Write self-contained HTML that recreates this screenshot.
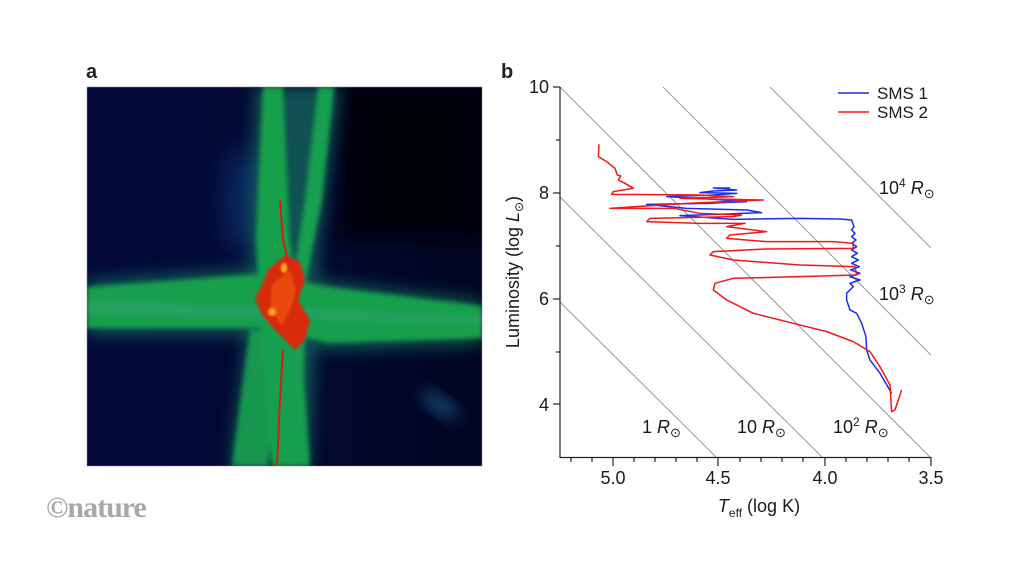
<!DOCTYPE html>
<html><head><meta charset="utf-8"><style>
body{margin:0;width:1024px;height:576px;background:#fff;overflow:hidden;font-family:"Liberation Sans",sans-serif}
</style></head><body>
<svg width="1024" height="576" viewBox="0 0 1024 576" xmlns="http://www.w3.org/2000/svg" style="position:absolute;left:0;top:0">
<defs>
<filter id="b8" x="-50%" y="-50%" width="200%" height="200%"><feGaussianBlur stdDeviation="8"/></filter>
<filter id="b3" x="-50%" y="-50%" width="200%" height="200%"><feGaussianBlur stdDeviation="2.5"/></filter>
<filter id="b1" x="-50%" y="-50%" width="200%" height="200%"><feGaussianBlur stdDeviation="1"/></filter>
<filter id="b15" x="-50%" y="-50%" width="200%" height="200%"><feGaussianBlur stdDeviation="15"/></filter>
<clipPath id="cp"><rect x="87" y="87" width="395" height="379"/></clipPath>
<linearGradient id="bg" x1="0" y1="0" x2="1" y2="0"><stop offset="0" stop-color="#03093a"/><stop offset="0.6" stop-color="#020830"/><stop offset="1" stop-color="#010520"/></linearGradient>
</defs>
<text x="86" y="78" font-size="20" font-weight="bold" fill="#222">a</text>
<text x="501" y="78" font-size="20" font-weight="bold" fill="#222">b</text>
<!-- panel a -->
<g clip-path="url(#cp)">
<rect x="87" y="87" width="395" height="379" fill="url(#bg)"/>
<rect x="340" y="80" width="150" height="160" fill="#000008" filter="url(#b8)"/>
<ellipse cx="245" cy="200" rx="18" ry="55" fill="#1a60a8" opacity="0.45" filter="url(#b15)"/>
<ellipse cx="440" cy="405" rx="22" ry="7" fill="#2a80b0" opacity="0.6" filter="url(#b8)" transform="rotate(35 440 405)"/>
<g filter="url(#b8)" opacity="0.55">
<polygon points="87,280 260,268 330,282 482,300 482,345 330,350 260,335 87,335" fill="#1a9070"/>
<polygon points="255,87 340,87 320,240 310,466 230,466 250,300" fill="#1a9070"/>
</g>
<g filter="url(#b3)">
<polygon points="87,287 260,274 330,287 482,306 482,338 330,343 260,328 87,328" fill="#14a04c"/>
<polygon points="263,87 283,87 290,240 300,320 310,466 272,466 262,350 256,240" fill="#14a04c"/>
<polygon points="318,87 334,87 322,200 302,300 290,300 305,200" fill="#18a050"/>
<polygon points="250,330 280,330 268,466 232,466" fill="#18a050" opacity="0.9"/>
<polygon points="285,330 305,330 302,466 286,466" fill="#18a050"/>
</g>
<polygon points="87,300 482,316 482,324 87,314" fill="#3aa080" opacity="0.4" filter="url(#b3)"/>
<g filter="url(#b1)">
<path d="M268 270 L285 255 L300 262 L305 280 L298 300 L310 320 L305 340 L295 350 L285 340 L275 330 L262 315 L255 298 L262 285 Z" fill="#d82a10"/>
<path d="M272 285 L290 270 L296 290 L290 310 L282 325 L270 310 Z" fill="#e84a10"/>
</g>
<ellipse cx="284" cy="268" rx="3" ry="5" fill="#ffb020" filter="url(#b1)"/>
<ellipse cx="272" cy="312" rx="4" ry="4" fill="#ffa020" filter="url(#b1)"/>
<path d="M280 200 L283 240 L288 260 M283 350 L280 400 L277 466" stroke="#d02010" stroke-width="2" fill="none"/>
</g>
<rect x="87" y="87" width="395" height="379" fill="none" stroke="#888" stroke-width="0.5"/>
<text x="46" y="517" font-family="Liberation Serif,serif" font-size="30" font-weight="bold" fill="#a8a8a8" letter-spacing="-1">©nature</text>
<!-- panel b -->
<g stroke="#999" stroke-width="1" fill="none">
<line x1="770" y1="87" x2="931" y2="248"/>
<line x1="663" y1="87" x2="931" y2="355"/>
<line x1="560" y1="87" x2="930" y2="457"/>
<line x1="560" y1="197" x2="822" y2="457"/>
<line x1="560" y1="302" x2="716" y2="457"/>
</g>
<g stroke="#222" stroke-width="1.2" fill="none">
<line x1="560" y1="87" x2="560" y2="458"/>
<line x1="560" y1="457.5" x2="931" y2="457.5"/>
<line x1="553" y1="87" x2="560" y2="87"/><line x1="556" y1="140" x2="560" y2="140"/>
<line x1="553" y1="193" x2="560" y2="193"/><line x1="556" y1="246" x2="560" y2="246"/>
<line x1="553" y1="299" x2="560" y2="299"/><line x1="556" y1="352" x2="560" y2="352"/>
<line x1="553" y1="404" x2="560" y2="404"/>
<line x1="571" y1="457" x2="571" y2="462"/><line x1="592" y1="457" x2="592" y2="462"/>
<line x1="613" y1="457" x2="613" y2="466"/><line x1="634" y1="457" x2="634" y2="462"/>
<line x1="655" y1="457" x2="655" y2="462"/><line x1="676" y1="457" x2="676" y2="462"/>
<line x1="697" y1="457" x2="697" y2="462"/><line x1="718" y1="457" x2="718" y2="466"/>
<line x1="740" y1="457" x2="740" y2="462"/><line x1="761" y1="457" x2="761" y2="462"/>
<line x1="782" y1="457" x2="782" y2="462"/><line x1="803" y1="457" x2="803" y2="462"/>
<line x1="825" y1="457" x2="825" y2="466"/><line x1="846" y1="457" x2="846" y2="462"/>
<line x1="867" y1="457" x2="867" y2="462"/><line x1="888" y1="457" x2="888" y2="462"/>
<line x1="909" y1="457" x2="909" y2="462"/><line x1="931" y1="457" x2="931" y2="466"/>
</g>
<g font-size="18" fill="#1a1a1a">
<text x="549" y="93" text-anchor="end">10</text>
<text x="549" y="199" text-anchor="end">8</text>
<text x="549" y="305" text-anchor="end">6</text>
<text x="549" y="411" text-anchor="end">4</text>
<text x="613" y="484" text-anchor="middle">5.0</text>
<text x="718" y="484" text-anchor="middle">4.5</text>
<text x="825" y="484" text-anchor="middle">4.0</text>
<text x="931" y="484" text-anchor="middle">3.5</text>
<text x="759" y="512" text-anchor="middle"><tspan font-style="italic">T</tspan><tspan font-size="12" dy="5">eff</tspan><tspan dy="-5"> (log K)</tspan></text>
<text transform="translate(519,272) rotate(-90)" text-anchor="middle">Luminosity (log <tspan font-style="italic">L</tspan><tspan font-size="12" dy="4">⊙</tspan><tspan dy="-4">)</tspan></text>
<text x="879" y="194">10<tspan font-size="12" dy="-7">4</tspan><tspan dy="7" font-style="italic"> R</tspan><tspan font-size="13" dy="4">⊙</tspan></text>
<text x="879" y="300">10<tspan font-size="12" dy="-7">3</tspan><tspan dy="7" font-style="italic"> R</tspan><tspan font-size="13" dy="4">⊙</tspan></text>
<text x="642" y="433">1<tspan font-style="italic"> R</tspan><tspan font-size="13" dy="4">⊙</tspan></text>
<text x="737" y="433">10<tspan font-style="italic"> R</tspan><tspan font-size="13" dy="4">⊙</tspan></text>
<text x="833" y="433">10<tspan font-size="12" dy="-7">2</tspan><tspan dy="7" font-style="italic"> R</tspan><tspan font-size="13" dy="4">⊙</tspan></text>
<text x="877" y="99" font-size="17">SMS 1</text>
<text x="877" y="118" font-size="17">SMS 2</text>
</g>
<line x1="838" y1="93" x2="869" y2="93" stroke="#1a2ee8" stroke-width="1.6"/>
<line x1="838" y1="112" x2="869" y2="112" stroke="#f01818" stroke-width="1.6"/>
<g transform="translate(500,60) scale(0.3333)" fill="none" stroke-width="4.5" stroke-linejoin="round">
<path stroke="#1a2ee8" d="M1175,1000 L1140,940 L1110,900 L1100,870 L1098,830 L1085,790 L1070,760 L1050,750 L1040,720 L1040,700 L1060,680 L1050,670 L1080,660 L1050,650 L1080,640 L1052,630 L1078,620 L1055,610 L1075,600 L1055,590 L1072,580 L1055,570 L1070,560 L1055,550 L1068,540 L1055,530 L1065,520 L1055,510 L1062,500 L1055,480 L1020,477 L900,475 L700,478 L540,467 L680,462 L785,458 L740,450 L560,445 L440,433 L620,430 L740,425 L600,415 L500,410 L640,405 L710,400 L600,398 L640,393 L710,390 L640,384 L690,384"/>
<path stroke="#f01818" d="M297,253 L295,290 L320,305 L345,325 L352,345 L362,348 L355,360 L375,370 L400,385 L340,395 L335,403 L600,405 L700,410 L540,415 L790,420 L560,430 L330,445 L520,445 L600,460 L725,465 L700,470 L450,475 L440,485 L600,490 L735,490 L680,500 L800,515 L690,525 L680,535 L800,545 L1000,545 L1060,550 L1060,565 L800,567 L640,575 L630,585 L700,600 L900,615 L1065,620 L1070,645 L900,650 L700,655 L645,670 L640,690 L680,720 L760,760 L880,790 L980,815 L1060,845 L1110,875 L1140,920 L1170,975 L1175,1055 L1185,1050 L1205,990"/>
</g>
</svg>
</body></html>
